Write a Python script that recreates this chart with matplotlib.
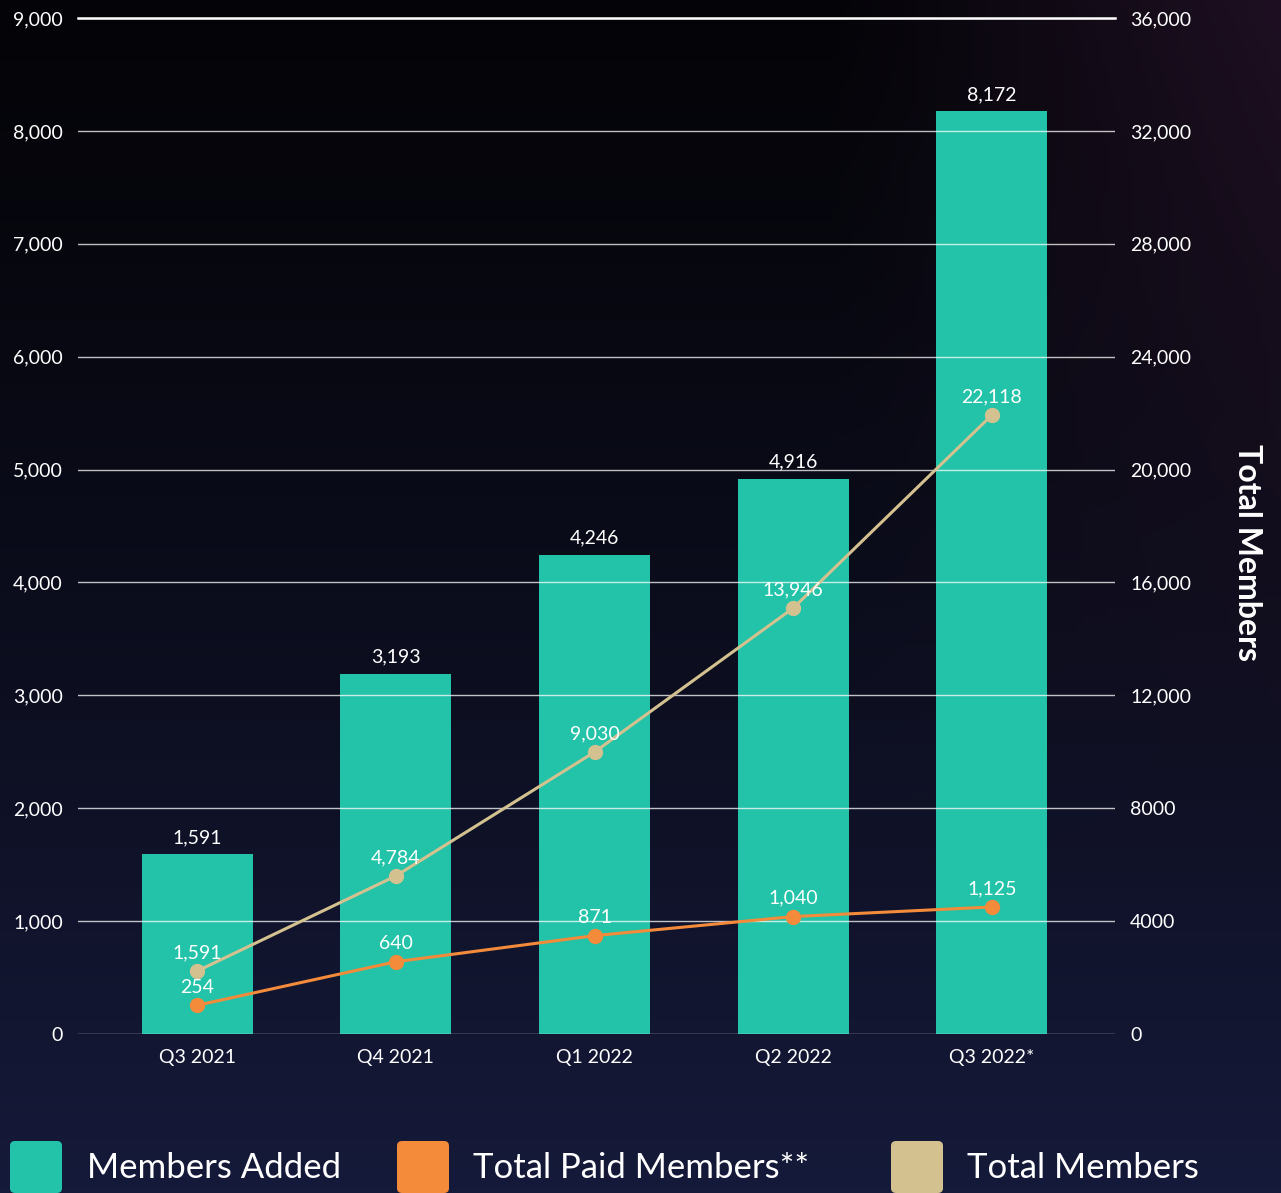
import numpy as np
import matplotlib.pyplot as plt
from matplotlib.patches import FancyBboxPatch

plt.rcParams['font.family'] = ['Lato', 'DejaVu Sans']

quarters = ["Q3 2021", "Q4 2021", "Q1 2022", "Q2 2022", "Q3 2022*"]
members_added = [1591, 3193, 4246, 4916, 8172]
paid_members = [254, 640, 871, 1040, 1125]
total_members_labels = ["1,591", "4,784", "9,030", "13,946", "22,118"]
# where the total members points sit on the right axis in the picture
total_members_plotted = [2230, 5600, 9990, 15090, 21930]

left_ticks = [0, 1000, 2000, 3000, 4000, 5000, 6000, 7000, 8000, 9000]
right_ticks = [0, 4000, 8000, 12000, 16000, 20000, 24000, 28000, 32000, 36000]
right_tick_labels = ["0", "4000", "8000", "12,000", "16,000", "20,000",
                     "24,000", "28,000", "32,000", "36,000"]
legend_labels = ["Members Added", "Total Paid Members**", "Total Members"]

teal = "#22C3A8"
orange = "#F38B3B"
beige = "#D4C190"

fig = plt.figure(figsize=(12.81, 11.93), dpi=100)

# background gradient
bg = fig.add_axes([0, 0, 1, 1], zorder=-10)
h, w = 200, 200
yy, xx = np.mgrid[0:1:h * 1j, 0:1:w * 1j]
top = np.array([4, 4, 8]) / 255
bottom = np.array([22, 26, 58]) / 255
purple = np.array([30, 16, 34]) / 255
t = (yy ** 1.3)[..., None]
img = top * (1 - t) + bottom * t
pw = (np.clip((xx - 0.65) / 0.35, 0, 1) * np.clip(1 - yy * 1.3, 0, 1))[..., None]
img = img * (1 - pw) + purple * pw
bg.imshow(img, aspect='auto', extent=[0, 1, 0, 1], origin='upper')
bg.axis('off')

ax = fig.add_axes([0.0609, 0.1333, 0.8095, 0.8516])
ax.patch.set_alpha(0)
x = np.arange(len(quarters))

bars = ax.bar(x, members_added, width=0.56, color=teal, zorder=1)
for xi, v in zip(x, members_added):
    ax.annotate(f"{v:,}", (xi, v), xytext=(0, 6), textcoords='offset points',
                ha='center', va='bottom', color='white', fontsize=14)

ax.set_xlim(-0.6, 4.62)
ax.set_ylim(0, 9000)
ax.set_yticks(left_ticks)
ax.set_yticklabels([f"{t:,}" for t in left_ticks])
ax.set_xticks(x)
ax.set_xticklabels(quarters)
ax.tick_params(axis='y', length=0, pad=11, colors='white', labelsize=14)
ax.tick_params(axis='x', length=0, pad=11, colors='white', labelsize=14)
ax.set_axisbelow(False)
ax.grid(axis='y', color='white', alpha=0.75, lw=1)
for s in ['left', 'right', 'bottom']:
    ax.spines[s].set_visible(False)
ax.spines['top'].set_color('white')
ax.spines['top'].set_linewidth(1.8)

ax.plot(x, paid_members, color=orange, lw=2.2, marker='o', ms=10, zorder=3)
for xi, v in zip(x, paid_members):
    ax.annotate(f"{v:,}", (xi, v), xytext=(0, 7), textcoords='offset points',
                ha='center', va='bottom', color='white', fontsize=14, zorder=4)

ax2 = ax.twinx()
ax2.set_ylim(0, 36000)
ax2.set_yticks(right_ticks)
ax2.set_yticklabels(right_tick_labels)
ax2.tick_params(axis='y', length=0, pad=11, colors='white', labelsize=14)
for s in ax2.spines.values():
    s.set_visible(False)
ax2.plot(x, total_members_plotted, color=beige, lw=2.2, marker='o', ms=10)
for xi, v, lab in zip(x, total_members_plotted, total_members_labels):
    ax2.annotate(lab, (xi, v), xytext=(0, 7), textcoords='offset points',
                 ha='center', va='bottom', color='white', fontsize=14)

fig.text(0.974, 0.5365, "Total Members", rotation=270, ha='center', va='center',
         color='white', fontsize=23, fontweight='bold')

# legend
W, H = 1281, 1193
for (bx, tx), lab, c in zip([(10, 87), (397, 473), (891, 967)], legend_labels,
                            [teal, orange, beige]):
    box = FancyBboxPatch((bx / W, 0), 52 / W, 52 / H,
                         boxstyle="round,pad=0,rounding_size=0.004",
                         transform=fig.transFigure, facecolor=c, edgecolor='none')
    fig.add_artist(box)
    fig.text(tx / W, 1 - 1168 / H, lab, color='white', fontsize=25,
             ha='left', va='center')

fig.savefig("out.png", dpi=100)
